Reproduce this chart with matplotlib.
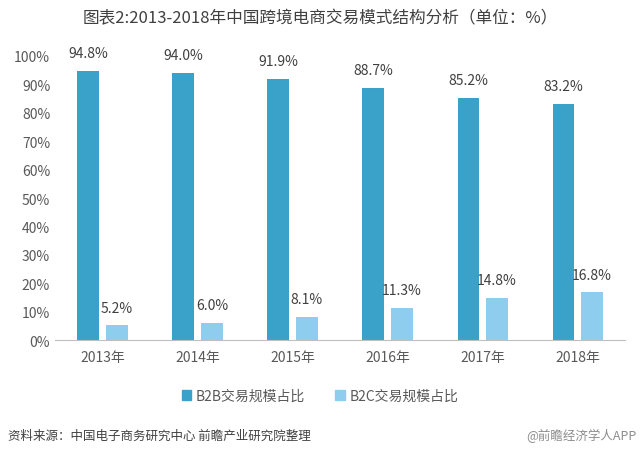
import numpy as np
import matplotlib.pyplot as plt
from matplotlib.patches import Patch

plt.rcParams['font.family'] = ['Noto Sans CJK SC', 'DejaVu Sans']

years = ['2013年', '2014年', '2015年', '2016年', '2017年', '2018年']
b2b = [94.8, 94.0, 91.9, 88.7, 85.2, 83.2]
b2c = [5.2, 6.0, 8.1, 11.3, 14.8, 16.8]

c_b2b = '#3aa2c8'
c_b2c = '#8ecdee'
txt = '#595959'

fig = plt.figure(figsize=(6.4, 4.56), dpi=100)
ax = fig.add_axes([0.086, 0.252, 0.891, 0.623])

x = np.arange(len(years))
w = 0.23
off = 0.15
ax.bar(x - off, b2b, w, color=c_b2b)
ax.bar(x + off, b2c, w, color=c_b2c)

for i in range(len(years)):
    ax.text(x[i] - off, b2b[i] + 3.8, '%.1f%%' % b2b[i], ha='center', va='bottom',
            fontsize=10, color='#404040')
    ax.text(x[i] + off, b2c[i] + 3.8, '%.1f%%' % b2c[i], ha='center', va='bottom',
            fontsize=10, color='#404040')

ax.set_xlim(-0.5, len(years) - 0.5)
ax.set_ylim(0, 100)
ax.set_yticks(range(0, 101, 10))
ax.set_yticklabels(['%d%%' % v for v in range(0, 101, 10)])
ax.set_xticks(x)
ax.set_xticklabels(years)
ax.tick_params(axis='both', length=0, labelsize=10, labelcolor=txt)
ax.tick_params(axis='x', pad=7)
for s in ['top', 'right', 'left']:
    ax.spines[s].set_visible(False)
ax.spines['bottom'].set_color('#bfbfbf')

fig.text(0.5, 0.958, '图表2:2013-2018年中国跨境电商交易模式结构分析（单位：%）',
         ha='center', va='center', fontsize=12, color='#404040')

handles = [Patch(color=c_b2b, label='B2B交易规模占比'),
           Patch(color=c_b2c, label='B2C交易规模占比')]
fig.legend(handles=handles, loc='center', bbox_to_anchor=(0.5, 0.13), ncol=2,
           frameon=False, fontsize=10, labelcolor=txt, handlelength=0.7,
           handleheight=0.7, handletextpad=0.3, columnspacing=2.2)

fig.text(0.012, 0.043, '资料来源：中国电子商务研究中心 前瞻产业研究院整理',
         ha='left', va='center', fontsize=9, color='#404040', style='italic')
fig.text(0.995, 0.043, '@前瞻经济学人APP', ha='right', va='center',
         fontsize=9, color='#8c8c8c')

fig.savefig('out.png', dpi=100)
